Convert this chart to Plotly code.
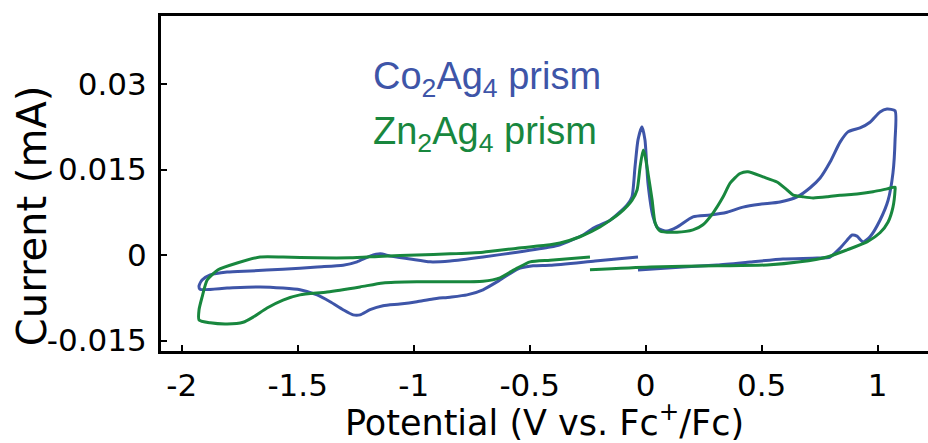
import plotly.graph_objects as go

# Cyclic voltammograms (potential in V vs. Fc+/Fc, current in mA)
co_potential = [
    -0.033, 0.161, 0.308, 0.450, 0.592, 0.739, 0.795, 0.838, 0.868, 0.890,
    0.911, 0.937, 0.967, 1.010, 1.045, 1.066, 1.075, 1.075, 1.040, 1.010,
    0.967, 0.924, 0.872, 0.838, 0.795, 0.752, 0.709, 0.653, 0.579, 0.493,
    0.420, 0.351, 0.278, 0.204, 0.135, 0.092, 0.053, 0.032, 0.010, -0.003,
    -0.016, -0.033, -0.046, -0.059, -0.080, -0.153, -0.227, -0.270, -0.369, -0.412,
    -0.554, -0.701, -0.843, -0.929, -1.015, -1.101, -1.144, -1.188, -1.244, -1.304,
    -1.416, -1.563, -1.705, -1.804, -1.877, -1.912, -1.925, -1.921, -1.804, -1.662,
    -1.563, -1.490, -1.416, -1.360, -1.304, -1.261, -1.231, -1.188, -1.132, -1.059,
    -0.986, -0.917, -0.843, -0.770, -0.701, -0.628, -0.554, -0.485, -0.412, -0.218,
    -0.033,
]
co_current = [
    -0.00263, -0.0021, -0.00175, -0.00123, -0.0007, -0.00053, -0.00035, 0.0012, 0.0026, 0.0035,
    0.0033, 0.0023, 0.0032, 0.0061, 0.0096, 0.0144, 0.0202, 0.0253, 0.0256, 0.0251,
    0.0233, 0.0223, 0.0216, 0.0198, 0.0163, 0.0135, 0.0118, 0.0102, 0.0093, 0.0089,
    0.0084, 0.0075, 0.0070, 0.0067, 0.0049, 0.0042, 0.0047, 0.0067, 0.0126, 0.0202,
    0.0225, 0.0202, 0.0154, 0.0102, 0.0088, 0.0061, 0.0047, 0.0035, 0.0018, 0.0014,
    0.0005, -0.00035, -0.00105, -0.0012, -0.0007, -0.0002, 0.0002, -0.0002, -0.0012, -0.0018,
    -0.0021, -0.0025, -0.0028, -0.0030, -0.0035, -0.0044, -0.0054, -0.0060, -0.0058, -0.0056,
    -0.0058, -0.0061, -0.0070, -0.0082, -0.0096, -0.0105, -0.0105, -0.0096, -0.0089, -0.0086,
    -0.0082, -0.0077, -0.0074, -0.0070, -0.0061, -0.0044, -0.0025, -0.0019, -0.0018, -0.00105,
    -0.00035,
]

zn_potential = [
    -0.240, 0.019, 0.308, 0.523, 0.666, 0.782, 0.868, 0.954, 1.010, 1.045,
    1.066, 1.075, 1.075, 1.040, 0.980, 0.911, 0.838, 0.782, 0.722, 0.679,
    0.636, 0.610, 0.566, 0.506, 0.441, 0.407, 0.364, 0.334, 0.291, 0.247,
    0.204, 0.135, 0.062, 0.041, 0.028, 0.010, -0.003, -0.011, -0.024, -0.037,
    -0.059, -0.110, -0.197, -0.283, -0.369, -0.412, -0.554, -0.701, -0.843, -0.986,
    -1.132, -1.274, -1.416, -1.563, -1.662, -1.761, -1.843, -1.890, -1.912, -1.925,
    -1.925, -1.877, -1.804, -1.735, -1.692, -1.632, -1.563, -1.490, -1.373, -1.231,
    -1.132, -0.986, -0.843, -0.701, -0.628, -0.554, -0.498, -0.412, -0.240,
]
zn_current = [
    -0.0026, -0.0021, -0.0019, -0.00175, -0.0012, -0.00035, 0.0009, 0.0023, 0.0039, 0.0058,
    0.0084, 0.0114, 0.0119, 0.0116, 0.0111, 0.0107, 0.0105, 0.0102, 0.0100, 0.0102,
    0.0105, 0.0114, 0.0128, 0.0137, 0.0146, 0.0143, 0.0126, 0.0102, 0.0074, 0.0053,
    0.0044, 0.0040, 0.0042, 0.0056, 0.0096, 0.0144, 0.0175, 0.0184, 0.0154, 0.0114,
    0.0096, 0.0074, 0.0049, 0.0032, 0.0021, 0.0018, 0.0012, 0.0005, 0.0002, 0.0,
    -0.0002, -0.0005, -0.0005, -0.00035, -0.00035, -0.0014, -0.0026, -0.0044, -0.0074, -0.0096,
    -0.0114, -0.0119, -0.0121, -0.0118, -0.0109, -0.0093, -0.0079, -0.0070, -0.0065, -0.0056,
    -0.0049, -0.0047, -0.0047, -0.0046, -0.0040, -0.0023, -0.0012, -0.0009, -0.00035,
]

series_names = ["Co<sub>2</sub>Ag<sub>4</sub> prism", "Zn<sub>2</sub>Ag<sub>4</sub> prism"]
series_colors = ["#3E55A8", "#18873E"]

x_tick_values = [-2, -1.5, -1, -0.5, 0, 0.5, 1]
x_tick_labels = ["-2", "-1.5", "-1", "-0.5", "0", "0.5", "1"]
y_tick_values = [-0.015, 0, 0.015, 0.03]
y_tick_labels = ["-0.015", "0", "0.015", "0.03"]

axis_font = "DejaVu Sans, Arial, sans-serif"
label_font = "Liberation Sans, Arial, Helvetica, sans-serif"

fig = go.Figure()
for xs, ys, name, color in [
    (co_potential, co_current, series_names[0], series_colors[0]),
    (zn_potential, zn_current, series_names[1], series_colors[1]),
]:
    fig.add_trace(go.Scatter(
        x=xs, y=ys, mode="lines", name=name, showlegend=False,
        line=dict(color=color, width=3, shape="spline", smoothing=0.6),
    ))

# in-plot series labels
for i, (name, color) in enumerate(zip(series_names, series_colors)):
    fig.add_annotation(
        xref="paper", yref="paper", x=0.274, y=0.813 - 0.166 * i,
        xanchor="left", yanchor="middle", showarrow=False,
        text=name, font=dict(family=label_font, size=38, color=color),
    )

# vertical axis title
fig.add_annotation(
    xref="paper", yref="paper", x=-0.168, y=0.403,
    xanchor="center", yanchor="middle", showarrow=False, textangle=-90,
    text="Current (mA)", font=dict(family=axis_font, size=40, color="black"),
)

fig.update_layout(
    width=928, height=443,
    margin=dict(l=161, r=0, t=16, b=92),
    paper_bgcolor="white", plot_bgcolor="white",
    font=dict(family=axis_font, color="black"),
)
fig.update_xaxes(
    range=[-2.089, 1.217], showgrid=False, zeroline=False,
    showline=True, linewidth=3, linecolor="black", mirror=True,
    ticks="inside", ticklen=6, tickwidth=2, tickcolor="black",
    tickvals=x_tick_values, ticktext=x_tick_labels,
    tickfont=dict(family=axis_font, size=31), ticklabelstandoff=5,
    title=dict(text="Potential (V vs. Fc<sup>+</sup>/Fc)", standoff=3,
               font=dict(family=axis_font, size=35)),
)
fig.update_yaxes(
    range=[-0.016842, 0.041930], showgrid=False, zeroline=False,
    showline=True, linewidth=3, linecolor="black",
    ticks="inside", ticklen=6, tickwidth=2, tickcolor="black",
    tickvals=y_tick_values, ticktext=y_tick_labels,
    tickfont=dict(family=axis_font, size=31), ticklabelstandoff=5,
)

fig.write_html("out.html")
